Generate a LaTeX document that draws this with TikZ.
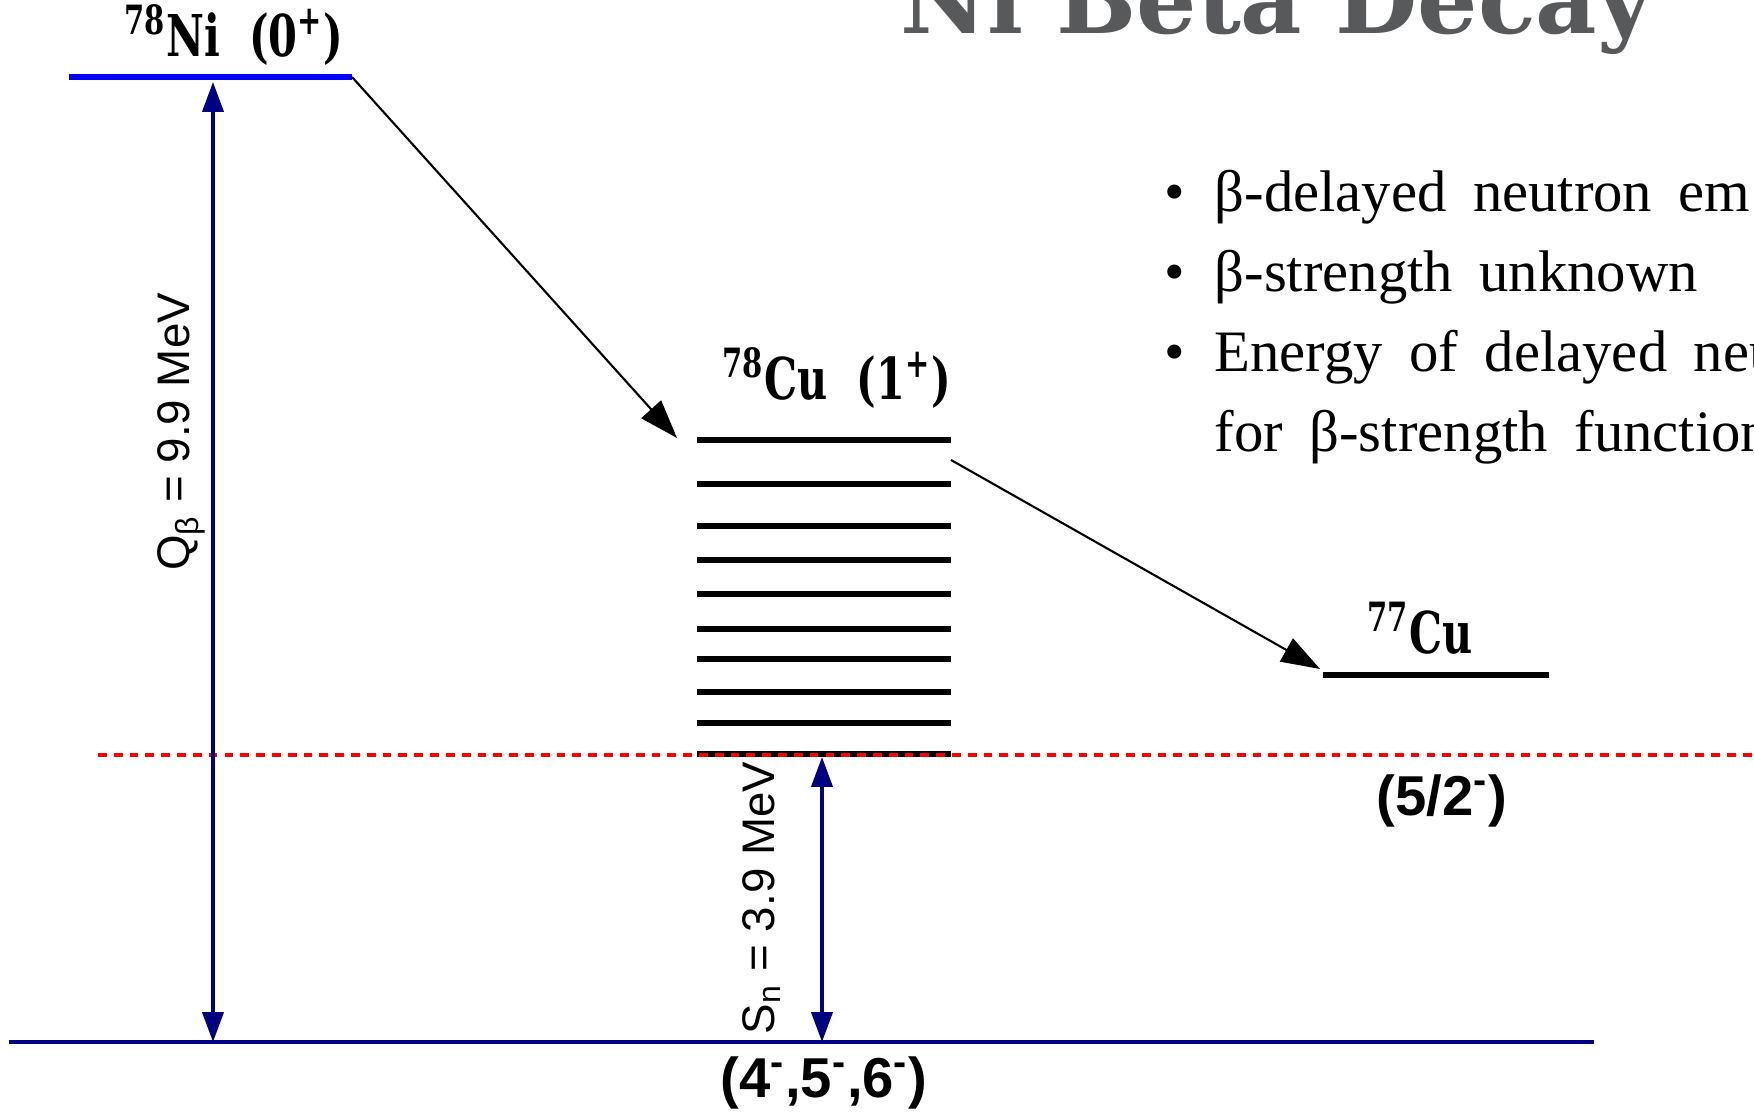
\documentclass[tikz,border=0pt]{standalone}
\usepackage{fontspec}
\setmainfont{Liberation Serif}
\setsansfont{Liberation Sans}
\newfontfamily\isofont[FakeStretch=0.72]{DejaVu Serif}
\newfontfamily\titlefont{DejaVu Serif}
\newfontfamily\bulletfont[WordSpace=1.8]{Liberation Serif}
\usetikzlibrary{arrows.meta}
\definecolor{slidegray}{RGB}{88,89,91}
\definecolor{gapnavy}{RGB}{0,0,128}
\definecolor{niblue}{RGB}{0,0,255}

\begin{document}
\begin{tikzpicture}[
    lvl/.style={line width=1.6pt},
    decay/.style={-{Triangle[length=11pt,width=7.5pt]}, line width=0.6pt},
    span/.style={{Triangle[length=8.5pt,width=6pt]}-{Triangle[length=8.5pt,width=6pt]}, gapnavy, line width=1pt},
    iso/.style={inner sep=0pt, anchor=base, font=\isofont\bfseries\fontsize{16.4}{20}\selectfont},
    spin/.style={inner sep=0pt, font=\sffamily\bfseries\fontsize{16}{19}\selectfont},
    val/.style={inner sep=0pt, anchor=base, rotate=90, font=\sffamily\fontsize{13}{16}\selectfont},
    point/.style={inner sep=0pt, anchor=base west, font=\bulletfont\fontsize{16.7}{20}\selectfont}
]
    \useasboundingbox (0,0) rectangle (17.54,11.14);

    % Title (runs off the top)
    \node[anchor=base west, inner sep=0pt, text=slidegray,
          font=\titlefont\bfseries\fontsize{27}{32}\selectfont] (title) at (9.00,10.80) {Ni Beta Decay};

    % 78Ni ground state
    \coordinate (ni-l) at (0.69,10.37);
    \coordinate (ni-r) at (3.52,10.37);
    \draw[lvl, niblue] (ni-l) -- (ni-r);
    \node[iso] (ni) at (2.34,10.57) {\textsuperscript{78}Ni\hspace{0.25em} (0\textsuperscript{+})};

    % 78Cu levels
    \foreach \y in {6.74,6.30,5.88,5.54,5.20,4.85,4.55,4.22,3.91,3.60}
        \draw[lvl] (6.97,\y) -- (9.51,\y);
    \node[iso] (cu78) at (8.37,7.14) {\textsuperscript{78}Cu\hspace{0.25em} (1\textsuperscript{+})};

    % 77Cu ground state
    \draw[lvl] (13.23,4.39) -- (15.49,4.39);
    \node[iso] (cu77) at (14.20,4.60) {\textsuperscript{77}Cu};
    \node[spin] (cu77spin) at (14.42,3.13) {(5/2\textsuperscript{-})};

    % 78Cu ground state
    \draw[gapnavy, line width=1.1pt] (0.09,0.72) -- (15.94,0.72);
    \node[spin] (gsspin) at (8.24,0.31) {(4\textsuperscript{-},5\textsuperscript{-},6\textsuperscript{-})};

    % Neutron threshold
    \draw[red, line width=0.9pt, dash pattern=on 2.5pt off 2pt] (0.98,3.59) -- (17.54,3.59);

    % Decay arrows
    \coordinate (cu78-in) at (6.77,6.76);
    \coordinate (cu78-out) at (9.51,6.54);
    \coordinate (cu77-in) at (13.20,4.45);
    \draw[decay] (ni-r) -- (cu78-in);
    \draw[decay] (cu78-out) -- (cu77-in);

    % Q-value and S_n
    \coordinate (q-top) at (2.13,10.32);
    \coordinate (q-bot) at (2.13,0.72);
    \draw[span] (q-top) -- (q-bot);
    \node[val] (qval) at (1.90,6.82) {Q\textsubscript{β} = 9.9 MeV};
    \coordinate (sn-top) at (8.22,3.57);
    \coordinate (sn-bot) at (8.22,0.72);
    \draw[span] (sn-top) -- (sn-bot);
    \node[val] (snval) at (7.74,2.16) {S\textsubscript{n} = 3.9 MeV};

    % Bullet points
    \node[point] (p1) at (11.64,9.02) {\makebox[0.5cm][l]{•}β-delayed neutron em};
    \node[point] (p2) at (11.64,8.22) {\makebox[0.5cm][l]{•}β-strength unknown};
    \node[point] (p3) at (11.64,7.42) {\makebox[0.5cm][l]{•}Energy of delayed neu};
    \node[point] (p4) at (12.14,6.62) {for β-strength function};
\end{tikzpicture}
\end{document}
